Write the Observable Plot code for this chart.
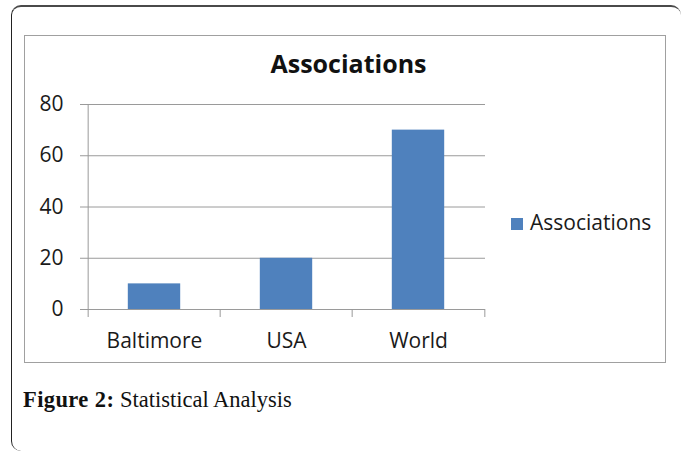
<!DOCTYPE html>
<html>
<head>
<meta charset="utf-8">
<script src="https://cdn.jsdelivr.net/npm/d3@7"></script>
<script src="https://cdn.jsdelivr.net/npm/@observablehq/plot@0.6"></script>
<style>
  html, body { margin: 0; padding: 0; background: #fff; }
  body { width: 683px; height: 452px; position: relative; overflow: hidden; }
  .sheet {
    position: absolute; left: 11px; top: 5px; width: 670px; height: 446px;
    box-sizing: border-box;
    border-top: 2px solid #4a4a4a; border-left: 1.5px solid #222;
    border-radius: 10px;
  }
  .chart-box {
    position: absolute; left: 24px; top: 35px; width: 642px; height: 328px;
    box-sizing: border-box; border: 1.5px solid #a0a0a0;
  }
  #chart { position: absolute; left: 24px; top: 35px; }
  .title {
    position: absolute; left: 348.5px; top: 51px; transform: translateX(-50%);
    font: bold 25px/1 "Open Sans", sans-serif; color: #111; white-space: nowrap;
  }
  .legend { position: absolute; left: 511px; top: 212px; font: 21px/1 "Open Sans", sans-serif; color: #1a1a1a; white-space: nowrap; }
  .legend .swatch { position: absolute; left: 0; top: 6px; width: 12px; height: 12px; }
  .legend .label { position: absolute; left: 19px; top: 0; }
  .caption {
    position: absolute; left: 23px; top: 389px;
    font: 22.5px/1 "Liberation Serif", serif; color: #111; white-space: nowrap;
  }
  .caption b { letter-spacing: 0.4px; }
</style>
</head>
<body>
<div class="sheet"></div>
<div class="chart-box"></div>
<div id="chart"></div>
<div class="title" id="title"></div>
<div class="legend"><span class="swatch" id="swatch"></span><span class="label" id="legend-label"></span></div>
<div class="caption" id="caption"></div>
<script>
// Number of associations by region
const categories = ["Baltimore", "USA", "World"];
const values = [10, 20, 70];
const yTicks = [0, 20, 40, 60, 80];
const seriesName = "Associations";
const chartTitle = "Associations";
const captionLead = "Figure 2:";
const captionText = " Statistical Analysis";

const barColor = "#4F81BD";
const lineColor = "#9a9a9a";
const textColor = "#1a1a1a";

const data = categories.map((name, i) => ({name, value: values[i]}));

const width = 642, height = 328;
const marginLeft = 63, marginRight = 181, marginTop = 69, marginBottom = 54;
const step = (width - marginLeft - marginRight) / categories.length;
const barInset = step * 0.3;
const tickLen = 8;

const plot = Plot.plot({
  width, height, marginLeft, marginRight, marginTop, marginBottom,
  style: {fontFamily: "Open Sans, sans-serif", fontSize: "21px", color: textColor, background: "transparent", overflow: "visible"},
  x: {domain: categories, padding: 0, label: null},
  y: {domain: [0, 80], label: null},
  marks: [
    Plot.gridY(yTicks, {stroke: lineColor, strokeOpacity: 1}),
    Plot.axisY(yTicks, {tickSize: 7, tickPadding: 17, stroke: lineColor, fill: textColor, label: null}),
    Plot.axisX({tickSize: 0, tickPadding: 24, fill: textColor, label: null}),
    Plot.barY(data, {x: "name", y: "value", fill: barColor, insetLeft: barInset, insetRight: barInset}),
    Plot.ruleY([0], {stroke: lineColor}),
    // vertical value axis, running down into the first category tick
    Plot.ruleX([categories[0]], {dx: -step / 2, insetBottom: -tickLen, stroke: lineColor}),
    // category boundary ticks
    Plot.ruleX(categories.slice(1), {y1: 0, y2: 0, insetBottom: -tickLen, dx: -step / 2, stroke: lineColor}),
    Plot.ruleX(categories.slice(-1), {y1: 0, y2: 0, insetBottom: -tickLen, dx: step / 2, stroke: lineColor})
  ]
});
document.getElementById("chart").append(plot);

document.getElementById("title").textContent = chartTitle;
document.getElementById("swatch").style.background = barColor;
document.getElementById("legend-label").textContent = seriesName;
const cap = document.getElementById("caption");
const b = document.createElement("b");
b.textContent = captionLead;
cap.append(b, document.createTextNode(captionText));
</script>
</body>
</html>
